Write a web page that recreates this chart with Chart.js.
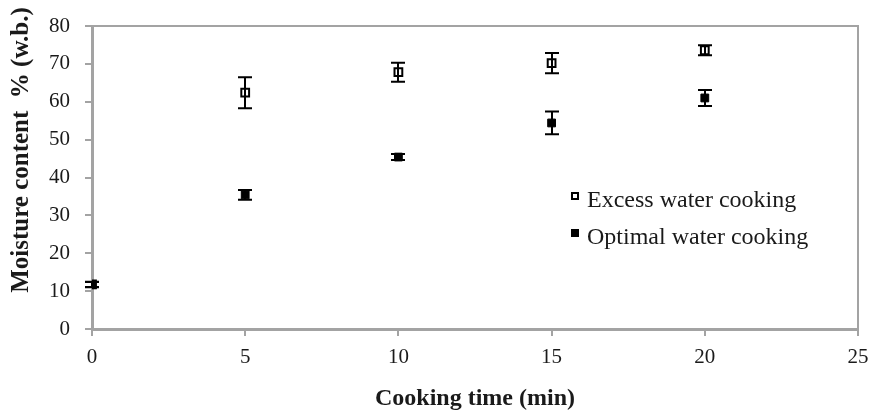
<!DOCTYPE html>
<html>
<head>
<meta charset="utf-8">
<script src="https://cdn.jsdelivr.net/npm/chart.js@4.4.0/dist/chart.umd.min.js"></script>
<style>
  body { margin: 0; background: #fff; }
  #wrap { width: 870px; height: 413px; }
</style>
</head>
<body>
<div id="wrap"><canvas id="myChart" width="870" height="413"></canvas></div>
<script>
// cooking time (min)
const times = [0, 5, 10, 15, 20];
// moisture content % (w.b.)
const excessValues = [11.8, 62.4, 67.8, 70.2, 73.6];
const excessErrors = [0.7, 4.1, 2.5, 2.7, 1.3];
const optimalValues = [11.7, 35.4, 45.4, 54.4, 61.0];
const optimalErrors = [0.7, 1.3, 0.8, 3.0, 2.1];
const seriesNames = ["Excess water cooking", "Optimal water cooking"];
const xTicks = [0, 5, 10, 15, 20, 25];
const yTicks = [0, 10, 20, 30, 40, 50, 60, 70, 80];

const axisGray = "#a3a3a3";
const serif = "'Liberation Serif', 'Times New Roman', serif";

function toPoints(vals) {
  return times.map((t, i) => ({ x: t, y: vals[i] }));
}

const errorBars = {
  id: "errorBars",
  afterDatasetsDraw(chart) {
    const ctx = chart.ctx;
    const x = chart.scales.x, y = chart.scales.y;
    ctx.save();
    ctx.strokeStyle = "#000";
    ctx.lineWidth = 2;
    chart.data.datasets.forEach((ds) => {
      ds.data.forEach((p, j) => {
        const e = ds.errors[j];
        const px = Math.round(x.getPixelForValue(p.x));
        const top = y.getPixelForValue(p.y + e);
        const bot = y.getPixelForValue(p.y - e);
        ctx.beginPath();
        ctx.moveTo(px, top);
        ctx.lineTo(px, bot);
        ctx.moveTo(px - 7, top);
        ctx.lineTo(px + 7, top);
        ctx.moveTo(px - 7, bot);
        ctx.lineTo(px + 7, bot);
        ctx.stroke();
      });
    });
    ctx.restore();
  },
  afterDraw(chart) {
    const ctx = chart.ctx;
    const a = chart.chartArea;
    ctx.save();
    // top and right frame
    ctx.strokeStyle = axisGray;
    ctx.lineWidth = 2;
    ctx.beginPath();
    ctx.moveTo(a.left, a.top);
    ctx.lineTo(a.right, a.top);
    ctx.lineTo(a.right, a.bottom);
    ctx.stroke();

    // legend
    ctx.font = "24px " + serif;
    ctx.textBaseline = "alphabetic";
    chart.data.datasets.forEach((ds, i) => {
      const ly = 196 + i * 37;
      ctx.fillStyle = "#000";
      ctx.fillRect(571, ly - 4, 8, 8);
      if (ds.backgroundColor === "#fff") {
        ctx.fillStyle = "#fff";
        ctx.fillRect(573, ly - 2, 4, 4);
      }
      ctx.fillStyle = "#1a1a1a";
      ctx.fillText(ds.label, 587, ly + 11);
    });

    // y axis title
    ctx.translate(22, 150);
    ctx.rotate(-Math.PI / 2);
    ctx.font = "bold 25px " + serif;
    ctx.textAlign = "center";
    ctx.textBaseline = "middle";
    ctx.fillStyle = "#1a1a1a";
    ctx.fillText("Moisture content  % (w.b.)", 0, 0);
    ctx.restore();
  }
};

const ctx = document.getElementById("myChart").getContext("2d");

const myChart = new Chart(ctx, {
  type: "scatter",
  data: {
    datasets: [
      {
        label: seriesNames[0],
        data: toPoints(excessValues),
        errors: excessErrors,
        pointStyle: "rect",
        pointRadius: 5.5,
        pointHoverRadius: 5.5,
        borderWidth: 2,
        borderColor: "#000",
        backgroundColor: "#fff",
        order: 1
      },
      {
        label: seriesNames[1],
        data: toPoints(optimalValues),
        errors: optimalErrors,
        pointStyle: "rect",
        pointRadius: 5.5,
        pointHoverRadius: 5.5,
        borderWidth: 1,
        borderColor: "#000",
        backgroundColor: "#000",
        order: 0
      }
    ]
  },
  options: {
    responsive: false,
    animation: false,
    layout: { padding: { left: 0, right: 12, top: 26, bottom: 0 } },
    plugins: {
      legend: { display: false },
      tooltip: { enabled: false }
    },
    scales: {
      x: {
        type: "linear",
        min: xTicks[0],
        max: xTicks[xTicks.length - 1],
        afterBuildTicks: (s) => { s.ticks = xTicks.map((v) => ({ value: v })); },
        afterFit: (s) => { s.height = 84; s.paddingLeft = 0; s.paddingRight = 0; },
        grid: { drawOnChartArea: false, color: axisGray, lineWidth: 2, tickLength: 7 },
        border: { color: axisGray, width: 3 },
        ticks: { color: "#1a1a1a", padding: 9, font: { family: serif, size: 21 } },
        title: {
          display: true,
          text: "Cooking time (min)",
          color: "#1a1a1a",
          padding: { top: 0, bottom: 0 },
          font: { family: serif, size: 24, weight: "bold" }
        }
      },
      y: {
        type: "linear",
        min: yTicks[0],
        max: yTicks[yTicks.length - 1],
        afterBuildTicks: (s) => { s.ticks = yTicks.map((v) => ({ value: v })); },
        afterFit: (s) => { s.width = 92; s.paddingTop = 0; s.paddingBottom = 0; },
        grid: { drawOnChartArea: false, color: axisGray, lineWidth: 2, tickLength: 7 },
        border: { color: axisGray, width: 3 },
        ticks: { color: "#1a1a1a", padding: 15, font: { family: serif, size: 21 } }
      }
    }
  },
  plugins: [errorBars]
});
</script>
</body>
</html>
